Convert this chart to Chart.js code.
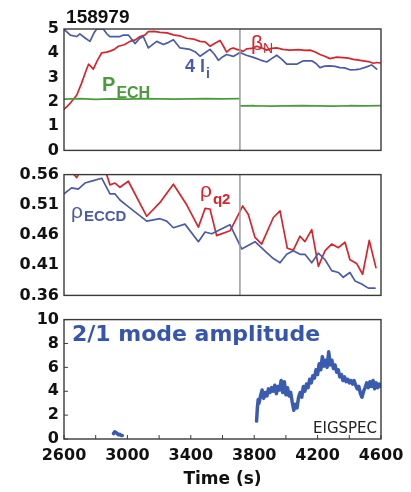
<!DOCTYPE html>
<html>
<head>
<meta charset="utf-8">
<script src="https://cdn.jsdelivr.net/npm/chart.js@4.4.1/dist/chart.umd.min.js"></script>
<style>
  html, body { margin: 0; padding: 0; background: #fff; }
  #wrap { position: relative; width: 411px; height: 492px; }
  canvas { position: absolute; left: 0; }
</style>
</head>
<body>
<div id="wrap">
  <canvas id="c1" width="411" height="165" style="top:0"></canvas>
  <canvas id="c2" width="411" height="150" style="top:160px"></canvas>
  <canvas id="c3" width="411" height="187" style="top:305px"></canvas>
</div>
<script>
// ---- data ----
const shotNumber = '158979';
const markerTime = 3710;

// panel 1: beta_N, 4 li, P_ECH
const bnTime = [
  2600, 2640, 2680, 2710, 2740, 2755, 2785, 2810,
  2838, 2870, 2890, 2915, 2943, 2980, 3016, 3050,
  3080, 3110, 3132, 3170, 3206, 3250, 3290, 3330,
  3374, 3420, 3458, 3490, 3521, 3550, 3584, 3605,
  3626, 3650, 3668, 3690, 3710, 3730, 3752, 3785,
  3816, 3850, 3879, 3910, 3942, 3980, 4026, 4080,
  4120, 4152, 4185, 4215, 4245, 4278, 4320, 4362,
  4395, 4425, 4460, 4488, 4520, 4552, 4575, 4600
];
const bnValue = [
  1.69, 1.95, 2.27, 2.75, 3.30, 3.55, 3.35, 3.70,
  4.02, 4.05, 4.09, 4.15, 4.29, 4.35, 4.49, 4.55,
  4.69, 4.75, 4.89, 4.90, 4.86, 4.84, 4.76, 4.72,
  4.62, 4.58, 4.49, 4.47, 4.29, 4.40, 4.53, 4.30,
  4.05, 4.18, 4.22, 4.16, 4.13, 4.08, 4.18, 4.20,
  4.29, 4.22, 4.13, 4.20, 4.22, 4.16, 4.13, 4.15,
  4.12, 4.13, 4.05, 3.95, 3.88, 3.78, 3.84, 3.82,
  3.80, 3.75, 3.72, 3.69, 3.66, 3.59, 3.62, 3.60
];
const liTime = [
  2600, 2640, 2680, 2700, 2735, 2764, 2790, 2806,
  2848, 2870, 2890, 2953, 2975, 3006, 3048, 3075,
  3100, 3132, 3185, 3227, 3260, 3290, 3332, 3395,
  3430, 3458, 3490, 3521, 3550, 3574, 3600, 3626,
  3668, 3710, 3750, 3795, 3840, 3879, 3910, 3942,
  3975, 4005, 4068, 4110, 4163, 4190, 4215, 4245,
  4278, 4310, 4341, 4370, 4404, 4440, 4467, 4500,
  4541, 4573
];
const liValue = [
  4.99, 4.75, 4.69, 4.80, 4.62, 4.49, 4.85, 5.00,
  5.00, 4.80, 4.69, 4.69, 4.75, 4.75, 4.40, 4.60,
  4.69, 4.22, 4.49, 4.36, 4.45, 4.56, 4.22, 4.16,
  4.05, 3.88, 4.02, 4.16, 3.95, 3.71, 3.85, 3.95,
  3.87, 4.03, 3.92, 3.83, 3.72, 3.64, 3.78, 3.92,
  3.75, 3.55, 3.55, 3.69, 3.69, 3.58, 3.41, 3.47,
  3.48, 3.46, 3.41, 3.40, 3.32, 3.33, 3.35, 3.42,
  3.52, 3.35
];
const echTime = [2600, 2700, 2800, 2900, 3000, 3100, 3200, 3300, 3400, 3500, 3600, 3705,
                 3710, 3715, 3800, 3900, 4000, 4100, 4200, 4300, 4400, 4500, 4600];
const echValue = [2.11, 2.13, 2.10, 2.12, 2.11, 2.13, 2.12, 2.11, 2.12, 2.13, 2.12, 2.13,
                  null, 1.83, 1.84, 1.82, 1.83, 1.84, 1.83, 1.82, 1.84, 1.83, 1.84];

// panel 2: rho_q2, rho_ECCD
const q2Time = [
  2600, 2648, 2680, 2711, 2785, 2869, 2890, 2922, 2953, 3006,
  3122, 3206, 3290, 3374, 3448, 3490, 3521, 3563, 3647, 3689,
  3727, 3763, 3805, 3847, 3921, 3963, 4009, 4047, 4089, 4120,
  4163, 4205, 4247, 4289, 4331, 4373, 4404, 4446, 4484, 4526,
  4568
];
const q2Value = [
  0.572, 0.565, 0.555, 0.570, 0.575, 0.560, 0.543, 0.546, 0.539, 0.549,
  0.491, 0.514, 0.544, 0.510, 0.473, 0.504, 0.503, 0.459, 0.467, 0.488,
  0.508, 0.494, 0.456, 0.445, 0.489, 0.500, 0.438, 0.435, 0.458, 0.449,
  0.469, 0.408, 0.434, 0.445, 0.439, 0.448, 0.419, 0.413, 0.395, 0.451,
  0.406
];
const ecTime = [
  2600, 2648, 2690, 2732, 2785, 2838, 2890, 2922, 2953, 2995,
  3122, 3206, 3248, 3290, 3363, 3448, 3490, 3532, 3647, 3721,
  3805, 3879, 3921, 3963, 4005, 4047, 4089, 4120, 4163, 4205,
  4247, 4289, 4331, 4362, 4404, 4436, 4478, 4520, 4562
];
const ecValue = [
  0.528, 0.538, 0.536, 0.546, 0.550, 0.554, 0.528, 0.528, 0.518, 0.509,
  0.483, 0.487, 0.483, 0.472, 0.478, 0.449, 0.465, 0.462, 0.477, 0.437,
  0.449, 0.431, 0.421, 0.414, 0.428, 0.434, 0.428, 0.428, 0.414, 0.430,
  0.419, 0.401, 0.398, 0.390, 0.398, 0.384, 0.379, 0.372, 0.372
];

// panel 3: 2/1 mode amplitude
const blobTime = [2912, 2920, 2928, 2936, 2944, 2952, 2960, 2968];
const blobValue = [0.45, 0.60, 0.55, 0.45, 0.35, 0.40, 0.30, 0.30];
const maTime = [
  3815, 3820, 3825, 3830, 3840, 3850, 3860, 3870, 3880, 3890,
  3900, 3910, 3920, 3930, 3940, 3950, 3960, 3970, 3980, 3990,
  4000, 4010, 4020, 4030, 4040, 4050, 4060, 4070, 4080, 4090,
  4100, 4110, 4120, 4130, 4140, 4150, 4160, 4170, 4180, 4190,
  4200, 4210, 4220, 4230, 4240, 4250, 4260, 4270, 4280, 4290,
  4300, 4310, 4320, 4330, 4340, 4350, 4360, 4370, 4380, 4390,
  4400, 4410, 4420, 4430, 4440, 4450, 4460, 4470, 4480, 4490,
  4500, 4510, 4520, 4530, 4540, 4550, 4560, 4570, 4580, 4590,
  4600
];
const maValue = [
  1.5, 2.6, 3.3, 3.0, 3.6, 4.1, 3.4, 3.9, 3.6, 4.2,
  3.9, 4.3, 4.0, 4.5, 3.8, 4.4, 4.1, 4.9, 3.9, 4.8,
  3.7, 4.3, 3.6, 3.9, 3.1, 2.4, 2.9, 2.6, 3.5, 3.9,
  3.5, 4.4, 4.0, 4.6, 4.3, 5.0, 4.7, 5.3, 5.1, 5.8,
  5.4, 6.3, 5.8, 6.9, 6.1, 6.6, 6.0, 7.3, 6.2, 6.6,
  5.9, 6.2, 5.6, 5.8, 5.2, 5.4, 4.9, 5.2, 4.8, 5.0,
  4.7, 4.9, 4.6, 4.9, 4.5, 4.2, 4.4, 3.8, 3.5, 4.0,
  4.3, 4.7, 4.3, 4.8, 4.4, 4.9, 4.2, 4.7, 4.3, 4.6,
  4.4
];

// axis ticks
const xTicks = [2600, 2800, 3000, 3200, 3400, 3600, 3800, 4000, 4200, 4400, 4600];
const xLabels = [2600, 3000, 3400, 3800, 4200, 4600];
const yTicks1 = [0, 1, 2, 3, 4, 5];
const yTicks2 = [0.36, 0.41, 0.46, 0.51, 0.56];
const yTicks3 = [0, 2, 4, 6, 8, 10];

// ---- styling ----
const RED = '#d3262d';
const BLUE = '#4d5aa6';
const GREEN = '#4b9a3d';
const TRACE = '#3a5bb2';
const TICK_FONT = { family: '"DejaVu Sans"', size: 16, weight: 'bold' };
const SANS = '"Liberation Sans", Arial, sans-serif';

function series(times, values) {
  return times.map((t, i) => ({ x: t, y: values[i] }));
}

function lineSet(data, color, width) {
  return {
    data: data,
    borderColor: color,
    borderWidth: width || 1.7,
    borderJoinStyle: 'round',
    borderCapStyle: 'round',
    pointRadius: 0,
    fill: false,
    tension: 0,
    spanGaps: false,
    clip: 0
  };
}

function markerSet(yMin, yMax) {
  const s = lineSet([{ x: markerTime, y: yMin }, { x: markerTime, y: yMax }], '#9a9a9a', 1.5);
  s.borderCapStyle = 'butt';
  return s;
}

// frame around the plot area (+ optional inward ticks)
function framePlugin(inwardTicks) {
  return {
    id: 'frame',
    afterDatasetsDraw(chart) {
      const { ctx, chartArea: a, scales } = chart;
      ctx.save();
      ctx.strokeStyle = '#3a3a3a';
      ctx.lineWidth = 1.4;
      ctx.strokeRect(a.left, a.top, a.right - a.left, a.bottom - a.top);
      if (inwardTicks) {
        ctx.lineWidth = 1;
        ctx.beginPath();
        scales.x.ticks.forEach(t => {
          const px = scales.x.getPixelForValue(t.value);
          ctx.moveTo(px, a.bottom); ctx.lineTo(px, a.bottom - 4);
        });
        scales.y.ticks.forEach(t => {
          const py = scales.y.getPixelForValue(t.value);
          ctx.moveTo(a.left, py); ctx.lineTo(a.left + 4, py);
        });
        ctx.stroke();
      }
      ctx.restore();
    }
  };
}

// text labels with subscripts, anchored in data coordinates
function notesPlugin(items) {
  return {
    id: 'notes',
    afterDraw(chart) {
      const { ctx, scales: { x, y } } = chart;
      items.forEach(item => {
        ctx.save();
        ctx.textAlign = 'left';
        ctx.textBaseline = 'alphabetic';
        ctx.fillStyle = item.color;
        let px = x.getPixelForValue(item.t);
        const py = y.getPixelForValue(item.v);
        if (item.align === 'right') {
          let w = 0;
          item.parts.forEach(p => { ctx.font = p.font; w += ctx.measureText(p.text).width; });
          px -= w;
        }
        item.parts.forEach(p => {
          ctx.font = p.font;
          ctx.fillText(p.text, px, py + (p.dy || 0));
          px += ctx.measureText(p.text).width + (p.gap || 0);
        });
        ctx.restore();
      });
    }
  };
}

function yAxis(min, max, ticks, fmt) {
  return {
    type: 'linear',
    min: min,
    max: max,
    afterFit: s => { s.width = 64; },
    afterBuildTicks: s => { s.ticks = ticks.map(v => ({ value: v })); },
    grid: { display: false, drawTicks: false },
    border: { display: false },
    ticks: { font: TICK_FONT, color: '#111', padding: 5, callback: fmt || (v => String(v)) }
  };
}

const hiddenX = { type: 'linear', min: 2600, max: 4600, display: false };

// ---- panel 1 ----
new Chart(document.getElementById('c1'), {
  type: 'line',
  data: {
    datasets: [
      markerSet(0, 5),
      lineSet(series(echTime, echValue), GREEN),
      lineSet(series(liTime, liValue), BLUE),
      lineSet(series(bnTime, bnValue), RED)
    ]
  },
  options: {
    responsive: false,
    animation: false,
    layout: { padding: { left: 0, right: 30, top: 29, bottom: 12 } },
    plugins: { legend: { display: false }, tooltip: { enabled: false } },
    scales: { x: hiddenX, y: yAxis(0, 5, yTicks1) }
  },
  plugins: [framePlugin(false), notesPlugin([
    { t: 2613, v: 5.24, color: '#111', parts: [{ text: shotNumber, font: 'bold 19px ' + SANS }] },
    { t: 3780, v: 4.15, color: RED, parts: [
      { text: 'β', font: '21px ' + SANS },
      { text: 'N', font: '14px ' + SANS, dy: 3 }] },
    { t: 3363, v: 3.23, color: BLUE, parts: [
      { text: '4 l', font: 'bold 18px ' + SANS, gap: 1 },
      { text: 'i', font: 'bold 14px ' + SANS, dy: 6 }] },
    { t: 2840, v: 2.46, color: GREEN, parts: [
      { text: 'P', font: 'bold 20px ' + SANS, gap: 1 },
      { text: 'ECH', font: 'bold 16px ' + SANS, dy: 7 }] }
  ])]
});

// ---- panel 2 ----
new Chart(document.getElementById('c2'), {
  type: 'line',
  data: {
    datasets: [
      markerSet(0.36, 0.56),
      lineSet(series(ecTime, ecValue), BLUE),
      lineSet(series(q2Time, q2Value), RED)
    ]
  },
  options: {
    responsive: false,
    animation: false,
    layout: { padding: { left: 0, right: 30, top: 13, bottom: 12 } },
    plugins: { legend: { display: false }, tooltip: { enabled: false } },
    scales: { x: hiddenX, y: yAxis(0.36, 0.56, yTicks2, v => v.toFixed(2)) }
  },
  plugins: [framePlugin(false), notesPlugin([
    { t: 3458, v: 0.523, color: RED, parts: [
      { text: 'ρ', font: '21px ' + SANS, gap: 1 },
      { text: 'q2', font: 'bold 15px ' + SANS, dy: 7 }] },
    { t: 2644, v: 0.488, color: BLUE, parts: [
      { text: 'ρ', font: '21px ' + SANS, gap: 1 },
      { text: 'ECCD', font: 'bold 15px ' + SANS, dy: 3 }] }
  ])]
});

// ---- panel 3 ----
new Chart(document.getElementById('c3'), {
  type: 'line',
  data: {
    datasets: [
      lineSet(series(blobTime, blobValue), TRACE, 3.5),
      lineSet(series(maTime, maValue), TRACE, 3.5)
    ]
  },
  options: {
    responsive: false,
    animation: false,
    layout: { padding: { left: 0, right: 30, top: 12, bottom: 0 } },
    plugins: { legend: { display: false }, tooltip: { enabled: false } },
    scales: {
      x: {
        type: 'linear',
        min: 2600,
        max: 4600,
        afterBuildTicks: s => { s.ticks = xTicks.map(v => ({ value: v })); },
        afterFit: s => { s.height = 53; },
        grid: { display: false, drawTicks: false },
        border: { display: false },
        ticks: {
          font: TICK_FONT, color: '#111', padding: 7, maxRotation: 0, autoSkip: false,
          callback: v => xLabels.includes(v) ? String(v) : ''
        },
        title: {
          display: true, text: 'Time (s)', color: '#111',
          font: { family: '"DejaVu Sans"', size: 17, weight: 'bold' },
          padding: { top: 0, bottom: 2 }
        }
      },
      y: yAxis(0, 10, yTicks3)
    }
  },
  plugins: [framePlugin(true), notesPlugin([
    { t: 2650, v: 8.2, color: '#3656ad', parts: [
      { text: '2/1 mode amplitude', font: 'bold 22px "DejaVu Sans"' }] },
    { t: 4575, v: 0.49, color: '#222', align: 'right', parts: [
      { text: 'EIGSPEC', font: '15px "DejaVu Sans"' }] }
  ])]
});
</script>
</body>
</html>
